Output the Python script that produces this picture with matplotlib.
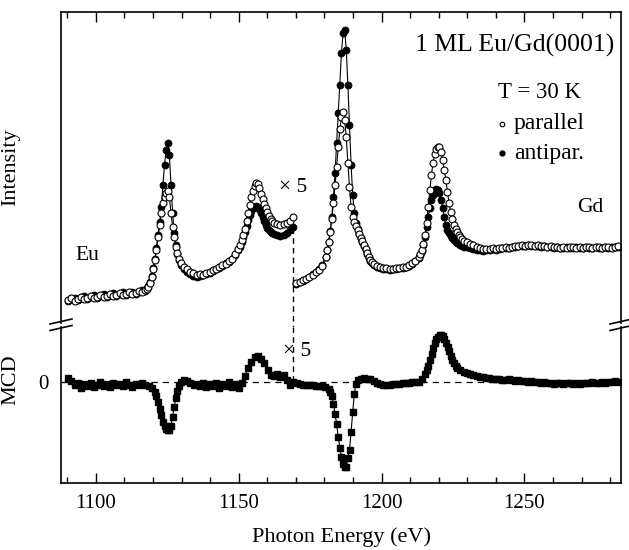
import numpy as np
import matplotlib
matplotlib.use('Agg')
import matplotlib.pyplot as plt
from matplotlib.lines import Line2D
from matplotlib.ticker import MultipleLocator

plt.rcParams['font.family'] = ['Liberation Serif', 'DejaVu Serif']

# --- data (arb. units) ---
# Eu M4,5 edge (scaled x5), photon energies in eV
e_eu = np.r_[np.linspace(1090.3, 1117.3, 25), np.linspace(1117.8, 1129.7, 22),
             np.linspace(1130.8, 1149.9, 18), np.linspace(1150.5, 1162.3, 22),
             np.linspace(1163.4, 1169.1, 6)]
par_eu = [25, 27, 24, 26, 28, 26, 27, 29, 27, 28, 30, 28, 29, 31, 29, 30, 32, 30, 31, 33, 31, 32, 34, 33, 35,
          36, 38, 42, 48, 56, 65, 75, 88, 100, 112, 122, 128, 132, 134, 128, 112, 98, 88, 78, 72, 66, 62,
          58, 56, 53, 52, 50, 51, 50, 52, 53, 55, 56, 58, 60, 61, 64, 66, 71, 76,
          80, 85, 90, 96, 104, 112, 120, 128, 134, 139, 142, 141, 137, 131, 126, 121, 117, 113, 109, 106, 104, 102,
          101, 100, 101, 102, 104, 108]
anti_eu = [24, 26, 27, 25, 27, 29, 26, 28, 30, 27, 29, 31, 28, 30, 32, 29, 31, 33, 30, 32, 33, 31, 33, 35, 34,
           37, 39, 43, 49, 57, 66, 77, 90, 103, 118, 140, 160, 175, 182, 170, 140, 112, 92, 80, 71, 65, 60,
           56, 53, 51, 49, 48, 49, 50, 51, 52, 54, 56, 57, 59, 62, 63, 66, 70, 75,
           78, 83, 88, 93, 99, 105, 110, 114, 117, 118, 119, 118, 116, 112, 108, 104, 100, 97, 95, 93, 92, 91,
           90, 89, 90, 92, 95, 98]

# Gd M4,5 edge
e_gd = np.r_[np.linspace(1170.2, 1180.4, 10), np.linspace(1180.9, 1197.2, 30),
             np.linspace(1198.3, 1213.0, 14), np.linspace(1213.5, 1228.7, 28),
             np.linspace(1229.9, 1282.8, 48)]
par_gd = [42, 43, 45, 46, 48, 50, 53, 55, 59, 68,
          75, 83, 93, 106, 122, 140, 158, 178, 196, 208, 213, 205, 188, 162, 138, 118, 108, 103, 99, 95,
          91, 87, 84, 80, 76, 72, 68, 65, 63, 61,
          59, 58, 57, 57, 56, 56, 57, 57, 58, 58, 60, 62, 64, 68,
          71, 75, 81, 90, 102, 118, 135, 150, 162, 171, 176, 178, 178, 173, 165, 155, 145, 133, 122, 113,
          106, 100, 96, 93, 90, 88, 86, 84,
          83, 81, 80, 78, 77, 76, 76, 76, 77, 76, 77, 77, 78, 77, 78, 79, 79, 80, 79, 80,
          80, 79, 80, 79, 79, 78, 79, 78, 78, 77, 78, 77, 78, 78, 77, 78, 77, 78, 78, 77,
          78, 78, 77, 78, 78, 77, 78, 79]
anti_gd = [41, 43, 44, 46, 48, 51, 53, 56, 60, 68,
           75, 83, 94, 108, 128, 152, 182, 212, 240, 272, 292, 295, 275, 240, 200, 160, 130, 112, 102, 96,
           91, 87, 83, 79, 75, 71, 67, 64, 62, 60,
           58, 57, 56, 56, 55, 56, 56, 57, 57, 58, 59, 61, 64, 67,
           70, 74, 80, 88, 98, 108, 117, 125, 130, 134, 136, 135, 132, 125, 117, 108, 100, 95, 92, 89,
           87, 85, 83, 82, 81, 80, 79, 78,
           78, 77, 76, 75, 75, 74, 75, 75, 76, 75, 76, 77, 77, 77, 78, 78, 79, 79, 79, 80,
           79, 79, 79, 78, 79, 78, 78, 77, 78, 77, 77, 78, 77, 77, 78, 77, 77, 78, 77, 77,
           78, 77, 77, 78, 77, 78, 78, 78]

# MCD
e_mcd = np.r_[np.linspace(1090.3, 1120.7, 28), np.linspace(1121.2, 1129.7, 16),
              np.linspace(1130.8, 1181.5, 46), np.linspace(1182.0, 1191.6, 18),
              np.linspace(1192.7, 1215.2, 21), np.linspace(1215.8, 1226.5, 20),
              np.linspace(1227.6, 1282.8, 50)]
mcd = [4, 1, -3, -1, -6, -2, -4, -1, -5, -3, 0, -4, -2, -5, -1, -3, -2, -4, 0, -3, -5, -2, -3, -1, -3, -4, -6, -10,
       -14, -20, -27, -33, -40, -44, -47, -48, -48, -44, -35, -25, -16, -9, -4, 0,
       2, 1, -1, -3, -2, -4, -1, -5, -2, -4, -1, -6, -2, -4, 0, -5, -2, -6, -1,
       6, 14, 20, 25, 26, 23, 19, 12, 7, 6, 8, 5, 7, 2, -3, 0,
       -1, -2, -3, -3, -3, -3, -4, -4, -4, -5, -7,
       -10, -14, -22, -32, -42, -55, -66, -75, -82, -85, -85, -76, -68, -50, -30, -12, -2, 2,
       3, 4, 3, 3, 1, -1, -2, -3, -3, -3, -2, -2, -2, -1, -1, -1, 0, 0, 0, 3, 8,
       12, 16, 22, 28, 34, 39, 43, 45, 47, 47, 46, 43, 39, 35, 31, 26, 22, 19, 16, 14,
       12, 10, 9, 8, 7, 6, 5, 5, 4, 4, 3, 3, 3, 2, 2, 3, 2, 1, 2, 1,
       1, 0, 1, 0, 0, -1, 0, -1, -1, -2, -1, -1, -2, -1, -1, -2, -1, -2, -1, -1,
       -1, 0, -1, -1, 0, -1, 0, 0, 1, 0]

E_SPLIT = 1169  # Eu part scaled x5 left of this

W, H = 629, 550
fig = plt.figure(figsize=(W / 100, H / 100), dpi=100)

def fx(px):
    return px / W

def fy(py):
    return 1 - py / H

left, right = 61, 621
ax1 = fig.add_axes([fx(left), fy(323), fx(right - left), fy(12) - fy(323)])
ax2 = fig.add_axes([fx(left), fy(483), fx(right - left), fy(327) - fy(483)], sharex=ax1)

# upper panel: intensity
for e, par, anti in [(e_eu, par_eu, anti_eu), (e_gd, par_gd, anti_gd)]:
    ax1.plot(e, anti, '-', color='k', lw=0.8, marker='o', ms=5, mfc='k', mec='k', mew=0.6)
    ax1.plot(e, par, '-', color='k', lw=0.8, marker='o', ms=5, mfc='white', mec='k', mew=0.8)

ax1.plot([E_SPLIT, E_SPLIT], [97, -2], '--', color='k', lw=1.0, dashes=(4, 3), clip_on=False)

ax1.set_xlim(1087.8, 1283.8)
ax1.set_ylim(2, 313)
ax1.spines['bottom'].set_visible(False)
ax1.xaxis.tick_top()
ax1.tick_params(axis='x', which='both', direction='in', labeltop=False, labelbottom=False, width=1)
ax1.tick_params(axis='x', which='major', length=7)
ax1.tick_params(axis='x', which='minor', length=4)
ax1.set_yticks([])
ax1.set_ylabel('Intensity', fontsize=16)
ax1.yaxis.set_label_coords(-0.072, 0.5)

ax1.text(1281.5, 280, '1 ML Eu/Gd(0001)', fontsize=18.5, ha='right', va='center')
ax1.text(1255.2, 232, 'T = 30 K', fontsize=16.5, ha='center', va='center')
ax1.plot([1242.3], [201], 'o', ms=3.3, mfc='white', mec='k', mew=0.8)
ax1.plot([1242.3], [172], 'o', ms=3.5, mfc='k', mec='k')
ax1.text(1246.3, 201, 'parallel', fontsize=17, ha='left', va='center')
ax1.text(1246.3, 172, 'antipar.', fontsize=17, ha='left', va='center')
ax1.text(1273.1, 117, 'Gd', fontsize=15.5, ha='center', va='center')
ax1.text(1097.2, 69, 'Eu', fontsize=15.5, ha='center', va='center')
ax1.text(1168.9, 137, '× 5', fontsize=15.5, ha='center', va='center')

# lower panel: MCD
ax2.plot(e_mcd, mcd, '-', color='k', lw=0.8, marker='s', ms=3.9, mfc='k', mec='k')
ax2.axhline(0, ls='--', color='k', lw=0.9, dashes=(5, 4))
ax2.plot([E_SPLIT, E_SPLIT], [54.7, 0], '--', color='k', lw=1.0, dashes=(4, 3))
ax2.text(1170.6, 30, '× 5', fontsize=15.5, ha='center', va='center')

ax2.set_ylim(-101.3, 54.7)
ax2.spines['top'].set_visible(False)
ax2.set_xticks([1100, 1150, 1200, 1250])
ax2.xaxis.set_minor_locator(MultipleLocator(10))
ax2.tick_params(axis='x', which='both', direction='in', top=False, labelsize=15, pad=8, width=1)
ax2.tick_params(axis='x', which='major', length=7)
ax2.tick_params(axis='x', which='minor', length=4)
ax2.set_yticks([0])
ax2.set_yticklabels(['0'])
ax2.tick_params(axis='y', direction='in', length=5, labelsize=15, pad=9)
ax2.set_ylabel('MCD', fontsize=16)
ax2.yaxis.set_label_coords(-0.072, 0.66)
ax2.set_xlabel('Photon Energy (eV)', fontsize=16, labelpad=10)

for ax in (ax1, ax2):
    for s in ax.spines.values():
        s.set_linewidth(1.2)

# axis break marks
for x0 in (50, 610):
    for dy in (0, 6.5):
        fig.add_artist(Line2D([fx(x0), fx(x0 + 22)], [fy(324 + dy), fy(319 + dy)],
                              color='k', lw=1.2))

fig.savefig('out.png', dpi=100)
